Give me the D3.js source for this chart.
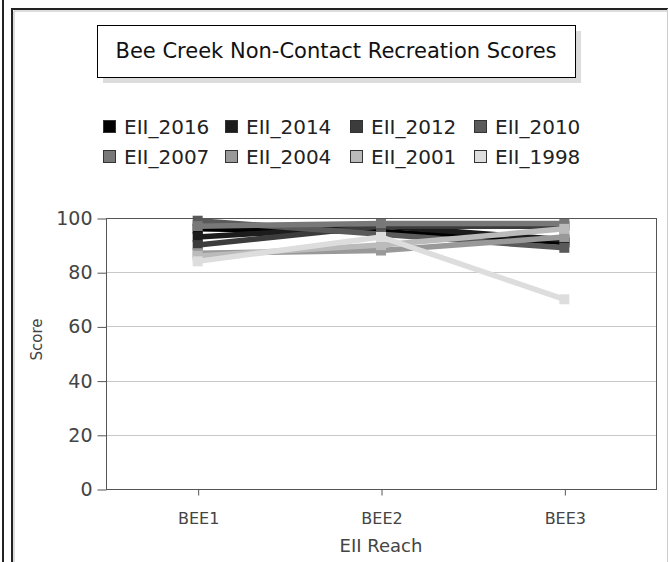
<!DOCTYPE html>
<html>
<head>
<meta charset="utf-8">
<script src="https://cdn.jsdelivr.net/npm/d3@7"></script>
<style>
  body { margin: 0; background: #fff; }
  svg { display: block; font-family: "DejaVu Sans", sans-serif; }
</style>
</head>
<body>
<script>
const width = 668;
const height = 562;

// Data.
const reaches = ["BEE1", "BEE2", "BEE3"];
const seriesNames = ["EII_2016", "EII_2014", "EII_2012", "EII_2010", "EII_2007", "EII_2004", "EII_2001", "EII_1998"];
const seriesColors = ["#000000", "#1c1c1c", "#3c3c3c", "#5a5a5a", "#787878", "#999999", "#bbbbbb", "#dddddd"];
const scores = [
  [96, 95, 91],
  [93, 97, 92],
  [90, 97, 97],
  [99, 94, 89],
  [97, 98, 98],
  [87, 88, 93],
  [86, 90, 96],
  [84, 93, 70]
];
const yTicks = [0, 20, 40, 60, 80, 100];

const svg = d3.select("body").append("svg")
  .attr("width", width)
  .attr("height", height);

// Outer frames.
svg.append("line").attr("x1", 3).attr("x2", 3).attr("y1", 0).attr("y2", height)
  .attr("stroke", "#222").attr("stroke-width", 2);
svg.append("path")
  .attr("d", `M12,${height} V9 H${width}`)
  .attr("fill", "none").attr("stroke", "#222").attr("stroke-width", 2);
svg.append("path")
  .attr("d", `M14,${height} V11 H${width}`)
  .attr("fill", "none").attr("stroke", "#bbb").attr("stroke-width", 1);
svg.append("line").attr("x1", width - 0.5).attr("x2", width - 0.5).attr("y1", 9).attr("y2", height)
  .attr("stroke", "#ccc");

// Title box with shadow.
const tb = { x: 97, y: 25, w: 478, h: 52 };
svg.append("rect").attr("x", tb.x + 6).attr("y", tb.y + 6).attr("width", tb.w).attr("height", tb.h)
  .attr("fill", "#dcdcdc");
svg.append("rect").attr("x", tb.x + 0.5).attr("y", tb.y + 0.5).attr("width", tb.w).attr("height", tb.h)
  .attr("fill", "#fff").attr("stroke", "#000");
svg.append("text")
  .attr("x", tb.x + tb.w / 2).attr("y", tb.y + tb.h / 2 + 7)
  .attr("text-anchor", "middle")
  .style("font-size", "21px")
  .attr("fill", "#111")
  .text("Bee Creek Non-Contact Recreation Scores");

// Legend, two rows of four.
const legendX = [103, 225, 350, 474];
const legendY = [127, 157];
const legend = svg.append("g").selectAll("g")
  .data(seriesNames)
  .enter().append("g")
  .attr("transform", (d, i) => `translate(${legendX[i % 4]},${legendY[Math.floor(i / 4)]})`);
legend.append("rect")
  .attr("x", 0.5).attr("y", -6.5).attr("width", 12).attr("height", 12)
  .attr("fill", (d, i) => seriesColors[i])
  .attr("stroke", "#333");
legend.append("text")
  .attr("x", 21).attr("y", 7)
  .style("font-size", "20px")
  .attr("fill", "#222")
  .text(d => d);

// Plot area.
const plot = { left: 106, right: 656, top: 218, bottom: 489 };
const x = d3.scalePoint().domain(reaches).range([plot.left, plot.right]).padding(0.5);
const y = d3.scaleLinear().domain([0, 100]).range([plot.bottom, plot.top]);

const g = svg.append("g");

// Gridlines.
g.selectAll(".grid")
  .data(yTicks.filter(t => t > 0 && t < 100))
  .enter().append("line")
  .attr("x1", plot.left).attr("x2", plot.right)
  .attr("y1", d => Math.round(y(d)) + 0.5).attr("y2", d => Math.round(y(d)) + 0.5)
  .attr("stroke", "#c8c8c8");

// Series lines and square markers.
const line = d3.line().x((d, i) => x(reaches[i])).y(d => y(d));
scores.forEach((vals, s) => {
  g.append("path")
    .datum(vals)
    .attr("d", line)
    .attr("fill", "none")
    .attr("stroke", seriesColors[s])
    .attr("stroke-width", 5.5);
  g.selectAll(null)
    .data(vals)
    .enter().append("rect")
    .attr("x", (d, i) => x(reaches[i]) - 5)
    .attr("y", d => y(d) - 5)
    .attr("width", 10).attr("height", 10)
    .attr("fill", seriesColors[s]);
});

// Plot border.
g.append("rect")
  .attr("x", plot.left + 0.5).attr("y", plot.top + 0.5)
  .attr("width", plot.right - plot.left).attr("height", plot.bottom - plot.top)
  .attr("fill", "none").attr("stroke", "#555");

// Y axis.
const yAxis = g.append("g")
  .attr("transform", `translate(${plot.left + 0.5},0.5)`)
  .call(d3.axisLeft(y).tickValues(yTicks).tickSize(9).tickPadding(5));
yAxis.select(".domain").remove();
yAxis.selectAll("line").attr("stroke", "#555");
yAxis.selectAll("text").style("font-size", "19px").attr("fill", "#444")
  .style("font-family", "DejaVu Sans");

// X axis.
const xAxis = g.append("g")
  .attr("transform", `translate(0.5,${plot.bottom + 0.5})`)
  .call(d3.axisBottom(x).tickSize(6).tickPadding(17));
xAxis.select(".domain").remove();
xAxis.selectAll("line").attr("stroke", "#555");
xAxis.selectAll("text").style("font-size", "16px").attr("fill", "#444")
  .style("font-family", "DejaVu Sans");

// Axis titles.
svg.append("text")
  .attr("x", (plot.left + plot.right) / 2).attr("y", 552)
  .attr("text-anchor", "middle")
  .style("font-size", "18px").attr("fill", "#444")
  .text("EII Reach");
svg.append("text")
  .attr("transform", `translate(42,${(plot.top + plot.bottom) / 2 - 14}) rotate(-90)`)
  .attr("text-anchor", "middle")
  .style("font-size", "15px").attr("fill", "#444")
  .text("Score");
</script>
</body>
</html>
